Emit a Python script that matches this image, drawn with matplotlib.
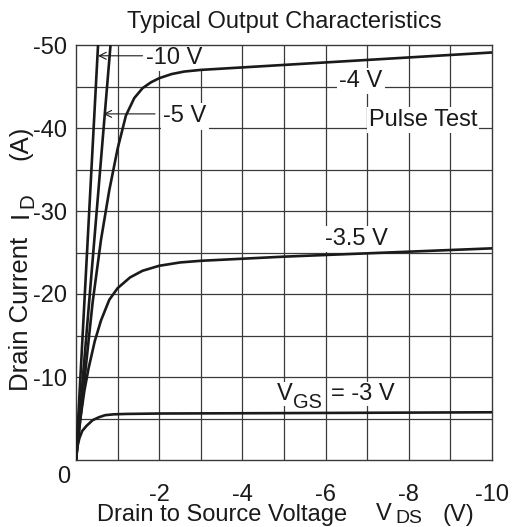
import matplotlib
matplotlib.use("Agg")
import matplotlib.pyplot as plt

plt.rcParams['font.family'] = ['Liberation Sans', 'DejaVu Sans']

# Data (V_DS in V, I_D in A)
v_10 = [0, -0.53]
i_10 = [0, -50]

v_5 = [0, -0.83]
i_5 = [0, -50]

v_4 = [0, -0.2, -0.4, -0.6, -0.8, -1.0, -1.2, -1.4, -1.6, -1.8, -2.0, -2.3, -2.6, -3.0, -4, -5, -6, -8, -10]
i_4 = [0, -9.5, -19, -26.5, -32.5, -37.5, -41.5, -43.6, -44.8, -45.5, -46.0, -46.5, -46.8, -47.0, -47.3, -47.6, -47.9, -48.5, -49.1]

v_35 = [0, -0.05, -0.1, -0.2, -0.3, -0.45, -0.6, -0.8, -1.0, -1.3, -1.6, -2.0, -2.5, -3, -5, -10]
i_35 = [0, -2.5, -4.8, -8.3, -11, -14.3, -16.8, -19.3, -20.7, -22.0, -22.8, -23.4, -23.8, -24.0, -24.5, -25.5]

v_3 = [0, -0.03, -0.08, -0.15, -0.25, -0.4, -0.55, -0.7, -0.9, -1.2, -2, -5, -10]
i_3 = [0, -1.5, -2.6, -3.5, -4.1, -4.8, -5.15, -5.4, -5.5, -5.55, -5.6, -5.65, -5.75]

x_ticks = [-2, -4, -6, -8, -10]
y_ticks = [-10, -20, -30, -40, -50]

FS = 17
FSY = 18.5
INK = '#1a1a1a'
W, H = 514, 527
fig = plt.figure(figsize=(W / 100, H / 100), dpi=100)
L, R, T, B = 76, 492, 45, 460
ax = fig.add_axes([L / W, (H - B) / H, (R - L) / W, (B - T) / H])

ax.set_xlim(0, -10)
ax.set_ylim(0, -50)

# grid
for v in range(-1, -10, -1):
    ax.axvline(v, color='#3a3a3a', lw=0.9, zorder=1)
for i in range(-5, -50, -5):
    ax.axhline(i, color='#3a3a3a', lw=0.9, zorder=1)

for v, i in [(v_10, i_10), (v_5, i_5), (v_4, i_4), (v_35, i_35), (v_3, i_3)]:
    ax.plot(v, i, color=INK, lw=1.9, zorder=3, solid_capstyle='butt')

ax.set_xticks(x_ticks)
ax.set_xticklabels([str(t) for t in x_ticks])
ax.set_yticks(y_ticks)
ax.set_yticklabels([str(t) for t in y_ticks])
ax.tick_params(axis='y', length=0, labelsize=FS, pad=6.5, colors=INK)
ax.tick_params(axis='x', length=0, labelsize=FS, pad=17, colors=INK)

for s in ax.spines.values():
    s.set_color('#3a3a3a')
    s.set_linewidth(1.0)


def ptext(x, y, s, size=FS, rot=0, z=6, **kw):
    """Text placed at pixel position (x from left, y from top), baseline-anchored."""
    return ax.text(x / W, (H - y) / H, s, transform=fig.transFigure, fontsize=size, color=INK,
                   rotation=rot, rotation_mode='anchor', ha='left', va='baseline',
                   zorder=z, clip_on=False, **kw)


# origin label
fig.text(63.5 / W, (H - 477) / H, '0', fontsize=FS, color=INK, ha='center', va='center')

# title
fig.text(284 / W, (H - 28) / H, 'Typical Output Characteristics', fontsize=FS, color=INK,
         ha='center', va='baseline')

# x label with lowered subscript
ptext(97, 520.5, 'Drain to Source Voltage')
ptext(376, 520.5, 'V')
ptext(395, 523, 'DS', size=FS * 0.82)
ptext(442, 520.5, '(V)')

# y label (rotated) with lowered subscript
ptext(27.5, 391, 'Drain Current', size=FSY, rot=90)
ptext(27.5, 218, 'I', size=FSY, rot=90)
ptext(33.5, 208, 'D', size=FSY * 0.8, rot=90)
ptext(27.5, 160, '(A)', size=FSY, rot=90)

bb = dict(facecolor='white', edgecolor='none', pad=1.5)
ax.text(-2.36, -48.4, '-10 V', ha='center', va='center', fontsize=FS, bbox=bb, zorder=2, color=INK)
ax.text(-2.62, -41.4, '-5 V', ha='center', va='center', fontsize=FS, bbox=bb, zorder=2, color=INK)
ax.text(-6.85, -45.7, '-4 V', ha='center', va='center', fontsize=FS, bbox=bb, zorder=2, color=INK)
ax.text(-8.34, -41.0, 'Pulse Test', ha='center', va='center', fontsize=FS, bbox=bb, zorder=2, color=INK)
ax.text(-6.75, -26.6, '-3.5 V', ha='center', va='center', fontsize=FS, bbox=bb, zorder=2, color=INK)

# V_GS label
sb = dict(facecolor='white', edgecolor='none', pad=1.0)
ptext(277, 400, 'V', bbox=sb, z=2)
ptext(293, 407.5, 'GS', size=FS * 0.85, bbox=sb, z=2)
ptext(331, 400, '= -3 V', bbox=sb, z=2)

ax.annotate('', xy=(-0.53, -48.7), xytext=(-1.6, -48.7),
            arrowprops=dict(arrowstyle='->,head_length=0.5,head_width=0.25', lw=0.8, color=INK,
                            shrinkA=0, shrinkB=0), zorder=5)
ax.annotate('', xy=(-0.66, -41.7), xytext=(-1.9, -41.7),
            arrowprops=dict(arrowstyle='->,head_length=0.5,head_width=0.25', lw=0.8, color=INK,
                            shrinkA=0, shrinkB=0), zorder=5)

fig.savefig('out.png', dpi=100)
